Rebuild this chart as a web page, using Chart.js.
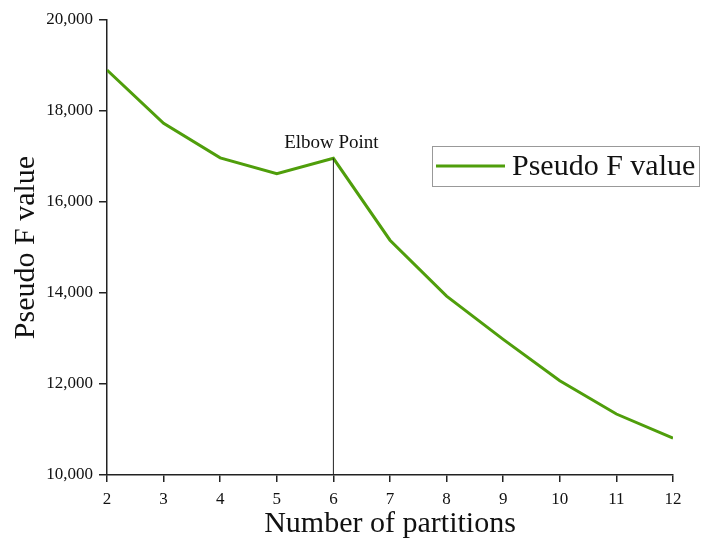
<!DOCTYPE html>
<html>
<head>
<meta charset="utf-8">
<script src="https://cdn.jsdelivr.net/npm/chart.js@4"></script>
<style>
  html, body { margin: 0; padding: 0; background: #fff; }
  #wrap { width: 710px; height: 552px; }
</style>
</head>
<body>
<div id="wrap"><canvas id="elbow-chart"></canvas></div>
<script>
// ====== DATA ======
const partitions = [2, 3, 4, 5, 6, 7, 8, 9, 10, 11, 12];
const pseudoF = [18900, 17730, 16970, 16620, 16960, 15160, 13930, 12980, 12070, 11340, 10810];
const seriesLabel = 'Pseudo F value';
const elbowX = 6;
const elbowLabel = 'Elbow Point';

const FONT = '"Liberation Serif", "Times New Roman", serif';
const GREEN = '#4f9e0b';

// ====== ELBOW MARKER ======
const elbowPlugin = {
    id: 'elbowMarker',
    afterDatasetsDraw(chart) {
        const { ctx, scales } = chart;
        const i = partitions.indexOf(elbowX);
        const x = scales.x.getPixelForValue(elbowX);
        const yTop = scales.y.getPixelForValue(pseudoF[i]);
        const yBottom = scales.y.getPixelForValue(scales.y.min);
        ctx.save();
        ctx.strokeStyle = '#222';
        ctx.lineWidth = 1;
        ctx.beginPath();
        ctx.moveTo(x, yBottom);
        ctx.lineTo(x, yTop);
        ctx.stroke();
        ctx.fillStyle = '#111';
        ctx.font = '19px ' + FONT;
        ctx.textAlign = 'center';
        ctx.textBaseline = 'alphabetic';
        ctx.fillText(elbowLabel, x - 2, yTop - 10);
        ctx.restore();
    }
};

// ====== LEGEND BOX (inside plot) ======
const legendBoxPlugin = {
    id: 'legendBox',
    afterDraw(chart) {
        const { ctx } = chart;
        const ds = chart.data.datasets[0];
        const left = 432, top = 146, w = 267, h = 40;
        ctx.save();
        ctx.strokeStyle = '#999';
        ctx.lineWidth = 1;
        ctx.strokeRect(left + 0.5, top + 0.5, w, h);
        ctx.strokeStyle = ds.borderColor;
        ctx.lineWidth = 3;
        ctx.beginPath();
        ctx.moveTo(left + 4, top + h / 2);
        ctx.lineTo(left + 73, top + h / 2);
        ctx.stroke();
        ctx.fillStyle = '#111';
        ctx.font = '30px ' + FONT;
        ctx.textAlign = 'left';
        ctx.textBaseline = 'middle';
        ctx.fillText(ds.label, left + 80, top + h / 2 + 1);
        ctx.restore();
    }
};

// ====== INIT CHART ======
const ctx = document.getElementById('elbow-chart');
new Chart(ctx, {
    type: 'line',
    data: {
        datasets: [{
            label: seriesLabel,
            data: partitions.map((p, i) => ({ x: p, y: pseudoF[i] })),
            borderColor: GREEN,
            borderWidth: 3,
            pointRadius: 0,
            tension: 0,
            fill: false
        }]
    },
    options: {
        responsive: true,
        maintainAspectRatio: false,
        animation: false,
        layout: { padding: { top: 20, right: 37, bottom: 0, left: 0 } },
        plugins: {
            legend: { display: false },
            tooltip: { enabled: false }
        },
        scales: {
            x: {
                type: 'linear',
                min: 2,
                max: 12,
                ticks: {
                    stepSize: 1,
                    color: '#111',
                    font: { family: FONT, size: 17 },
                    padding: 7
                },
                grid: {
                    drawOnChartArea: false,
                    drawTicks: true,
                    tickLength: 7,
                    color: '#222',
                    lineWidth: 1.5
                },
                border: { display: true, color: '#222', width: 1.5 },
                title: {
                    display: true,
                    text: 'Number of partitions',
                    color: '#111',
                    font: { family: FONT, size: 30 },
                    padding: { top: 0, bottom: 10 }
                },
                afterFit(scale) { scale.height = 77; }
            },
            y: {
                min: 10000,
                max: 20000,
                ticks: {
                    stepSize: 2000,
                    color: '#111',
                    font: { family: FONT, size: 17 },
                    padding: 6,
                    callback: v => v.toLocaleString('en-US')
                },
                grid: {
                    drawOnChartArea: false,
                    drawTicks: true,
                    tickLength: 8,
                    color: '#222',
                    lineWidth: 1.5
                },
                border: { display: true, color: '#222', width: 1.5 },
                title: {
                    display: true,
                    text: 'Pseudo F value',
                    color: '#111',
                    font: { family: FONT, size: 30 },
                    padding: { top: 8, bottom: 8 }
                },
                afterFit(scale) { scale.width = 107; }
            }
        }
    },
    plugins: [elbowPlugin, legendBoxPlugin]
});
</script>
</body>
</html>
